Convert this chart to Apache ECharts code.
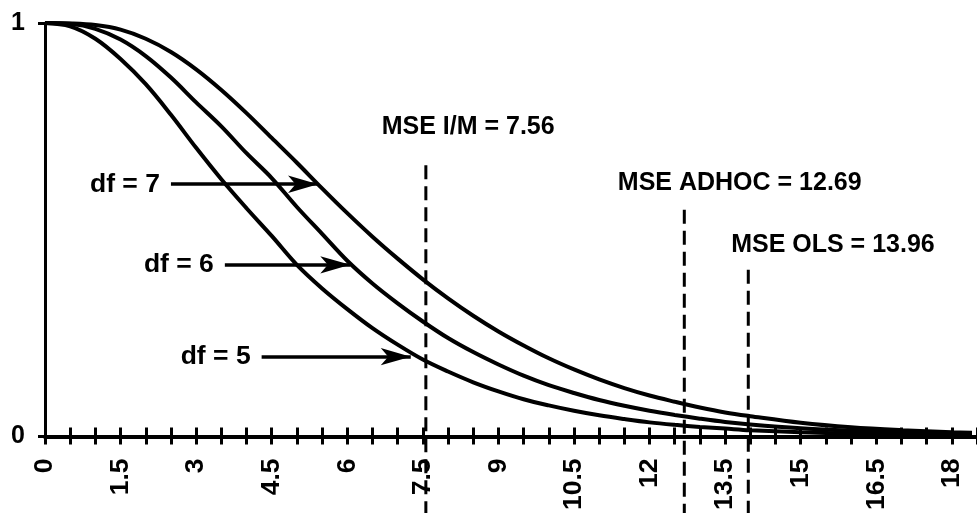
<!DOCTYPE html>
<html>
<head>
<meta charset="utf-8">
<script src="https://cdn.jsdelivr.net/npm/echarts@6/dist/echarts.min.js"></script>
<style>
  html, body { margin: 0; padding: 0; background: #ffffff; }
  #chart { width: 977px; height: 513px; }
</style>
</head>
<body>
<div id="chart"></div>
<script>
// x positions (chi-square statistic values) at which the curves were read
const xValues = [0, 0.5, 1, 1.5, 2, 2.5, 3, 3.5, 4, 4.5, 5, 5.5, 6, 6.5, 7, 7.5, 8, 8.5, 9, 9.5,
                 10, 10.5, 11, 11.5, 12, 12.5, 13, 13.5, 14, 15, 16, 17, 18, 18.4];
// curve values
const df5 = [1.000, 0.992, 0.962, 0.913, 0.852, 0.778, 0.698, 0.622, 0.552, 0.485, 0.415, 0.358, 0.308, 0.262, 0.222, 0.186, 0.157, 0.131, 0.109, 0.090,
             0.075, 0.062, 0.051, 0.042, 0.034, 0.028, 0.023, 0.019, 0.015, 0.010, 0.007, 0.005, 0.003, 0.003];
const df6 = [1.000, 0.998, 0.986, 0.960, 0.920, 0.868, 0.808, 0.750, 0.685, 0.625, 0.555, 0.490, 0.425, 0.370, 0.322, 0.278, 0.238, 0.204, 0.174, 0.147,
             0.124, 0.105, 0.088, 0.074, 0.062, 0.052, 0.043, 0.035, 0.029, 0.020, 0.014, 0.009, 0.006, 0.005];
const df7 = [1.000, 0.999, 0.995, 0.984, 0.962, 0.930, 0.888, 0.838, 0.782, 0.722, 0.662, 0.600, 0.540, 0.483, 0.430, 0.380, 0.334, 0.292, 0.254, 0.220,
             0.189, 0.162, 0.138, 0.117, 0.099, 0.084, 0.070, 0.058, 0.049, 0.033, 0.022, 0.015, 0.010, 0.009];

// MSE reference values
const mseNames = ['MSE I/M', 'MSE ADHOC', 'MSE OLS'];
const mseValues = [7.56, 12.69, 13.96];
const mseLineTop = [0.656, 0.548, 0.403];          // y where each dashed line starts
const mseLineBottom = -0.2;                        // dashed lines run down through the tick labels
const mseLabelAt = [[8.40, 0.748], [13.79, 0.613], [15.64, 0.463]]; // label centres (data units)

// df arrows
const dfLabels = ['df = 7', 'df = 6', 'df = 5'];
const arrowStartX = [2.50, 3.57, 4.30];
const arrowTipX = [5.42, 6.06, 7.26];
const arrowY = [0.610, 0.415, 0.193];

// axis tick labels
const xTickLabels = ['0', '1.5', '3', '4.5', '6', '7.5', '9', '10.5', '12', '13.5', '15', '16.5', '18'];
const yTickLabels = ['0', '1'];

const FONT = 'Liberation Sans, Arial, Helvetica, sans-serif';
const pairs = arr => xValues.map((x, i) => [x, arr[i]]);
const tickText = v => xTickLabels.find(t => Math.abs(parseFloat(t) - v) < 1e-6) || '';

const chart = echarts.init(document.getElementById('chart'), null, { renderer: 'canvas' });

const baseX = {
  type: 'value', min: 0, max: 18.5, interval: 0.5,
  splitLine: { show: false }
};

const curveStyle = { color: '#000', width: 4 };
const textStyle = { color: '#000', fontSize: 25, fontWeight: 'bold', fontFamily: FONT };
const bigText = Object.assign({}, textStyle, { fontSize: 26.5 });

function arrowItem(i) {
  return [
    {
      coord: [arrowStartX[i], arrowY[i]], symbol: 'none',
      lineStyle: { color: '#000', width: 3.5, type: 'solid' },
      label: Object.assign({ show: true, position: 'start', distance: 11, formatter: dfLabels[i] }, bigText)
    },
    { coord: [arrowTipX[i], arrowY[i]], symbol: 'arrow', symbolSize: [13, 30] }
  ];
}

const curveSeries = [df7, df6, df5].map((arr, i) => ({
  name: dfLabels[i], type: 'line', xAxisIndex: 0, data: pairs(arr), showSymbol: false,
  smooth: 0.35, clip: false, lineStyle: curveStyle, itemStyle: { color: '#000' }, z: 3,
  markLine: { silent: true, symbol: ['none', 'arrow'], data: [arrowItem(i)] }
}));

const mseSeries = mseValues.map((v, i) => ({
  name: mseNames[i], type: 'line', xAxisIndex: 0,
  data: [[v, mseLineTop[i]], [v, mseLineBottom]],
  showSymbol: false, clip: false, silent: true, z: 4,
  lineStyle: { color: '#000', width: 3, type: [14, 7] }, itemStyle: { color: '#000' },
  markPoint: {
    silent: true, symbol: 'rect', symbolSize: 0,
    label: Object.assign({ show: true, position: 'inside' }, textStyle),
    data: [{ coord: mseLabelAt[i], value: v, label: { formatter: mseNames[i] + ' = ' + v.toFixed(2) } }]
  }
}));

const option = {
  animation: false,
  backgroundColor: '#ffffff',
  grid: { left: 45, right: -6, top: 23, bottom: 76, containLabel: false },
  xAxis: [
    Object.assign({}, baseX, {
      position: 'bottom',
      axisLine: { show: true, onZero: false, lineStyle: { color: '#000', width: 4 } },
      axisTick: { show: true, inside: false, length: 8, lineStyle: { color: '#000', width: 3 } },
      axisLabel: Object.assign({ show: true, rotate: 90, margin: 22, formatter: tickText }, bigText)
    }),
    Object.assign({}, baseX, {
      position: 'bottom',
      axisLine: { show: false },
      axisTick: { show: true, inside: true, length: 9, lineStyle: { color: '#000', width: 3 } },
      axisLabel: { show: false }
    })
  ],
  yAxis: {
    type: 'value', min: 0, max: 1, interval: 1,
    axisLine: { show: true, onZero: false, lineStyle: { color: '#000', width: 3 } },
    axisTick: { show: true, inside: false, length: 7, lineStyle: { color: '#000', width: 3 } },
    axisLabel: Object.assign({ show: true, margin: 20, formatter: v => yTickLabels[Math.round(v)] }, textStyle),
    splitLine: { show: false }
  },
  series: curveSeries.concat(mseSeries)
};

chart.setOption(option);
</script>
</body>
</html>
